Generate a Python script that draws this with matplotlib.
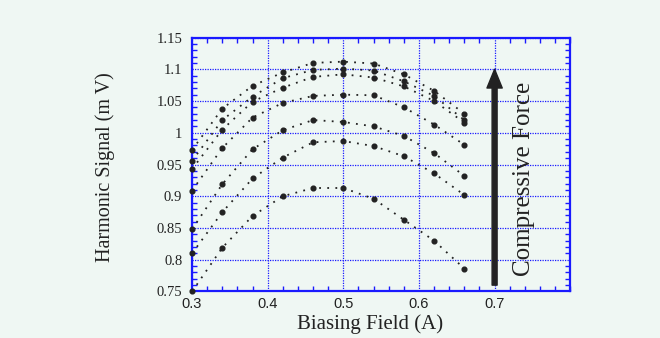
import numpy as np
import matplotlib.pyplot as plt
from matplotlib.ticker import MultipleLocator

# --- data ---
field = [0.30, 0.34, 0.38, 0.42, 0.46, 0.50, 0.54, 0.58, 0.62, 0.66]

signal_1 = [0.973, 1.038, 1.074, 1.095, 1.110, 1.112, 1.109, 1.092, 1.066, 1.030]
signal_2 = [0.956, 1.020, 1.057, 1.086, 1.099, 1.101, 1.098, 1.081, 1.058, 1.020]
signal_3 = [0.943, 1.005, 1.049, 1.071, 1.088, 1.092, 1.087, 1.073, 1.050, 1.016]
signal_4 = [0.909, 0.976, 1.024, 1.047, 1.058, 1.060, 1.059, 1.040, 1.013, 0.981]
signal_5 = [0.848, 0.919, 0.974, 1.004, 1.020, 1.017, 1.010, 0.995, 0.968, 0.932]
signal_6 = [0.810, 0.875, 0.928, 0.961, 0.985, 0.987, 0.979, 0.963, 0.936, 0.902]
signal_7 = [0.750, 0.819, 0.869, 0.900, 0.913, 0.913, 0.896, 0.863, 0.830, 0.786]

all_signals = [signal_1, signal_2, signal_3, signal_4, signal_5, signal_6, signal_7]

x_ticks = [0.3, 0.4, 0.5, 0.6, 0.7]
y_ticks = [0.75, 0.8, 0.85, 0.9, 0.95, 1.0, 1.05, 1.1, 1.15]
y_tick_labels = ['0.75', '0.8', '0.85', '0.9', '0.95', '1', '1.05', '1.1', '1.15']

bg = '#eff7f3'
blue = '#1a1aff'
ink = '#222222'
serif = 'Liberation Serif'
sans = 'Liberation Sans'

fig = plt.figure(figsize=(6.6, 3.38), dpi=100, facecolor=bg)
ax = fig.add_axes([0.291, 0.1376, 0.573, 0.7514], facecolor=bg)

for sig in all_signals:
    ax.plot(field, sig, color=ink, linestyle=(0, (1, 3.5)), linewidth=1.3,
            marker='o', markersize=3.4, markerfacecolor=ink, markeredgecolor=ink,
            clip_on=False, zorder=3)

# arrow + label
ax.annotate('', xy=(0.7, 1.1), xytext=(0.7, 0.76),
            arrowprops=dict(width=3.6, headwidth=11, headlength=13.5, shrink=0,
                            facecolor=ink, edgecolor=ink), zorder=4)
ax.text(0.7384, 0.928, 'Compressive Force', rotation=90, ha='center', va='center',
        fontsize=18, family=serif, color=ink)

ax.set_xlim(0.3, 0.8)
ax.set_ylim(0.75, 1.15)
ax.set_xticks(x_ticks)
ax.set_yticks(y_ticks)
ax.set_yticklabels(y_tick_labels, family=serif, fontsize=10.5)
ax.set_xticklabels([f'{t:.1f}' for t in x_ticks], family=sans, fontsize=10.5)
ax.xaxis.set_minor_locator(MultipleLocator(0.02))
ax.yaxis.set_minor_locator(MultipleLocator(0.01))

ax.tick_params(which='both', direction='in', top=True, right=True, colors=blue,
               labelcolor=ink)
ax.tick_params(which='major', length=0, width=1)
ax.tick_params(axis='y', which='major', pad=7)
ax.tick_params(axis='x', which='major', pad=4)
ax.tick_params(which='minor', length=3.5, width=1)

for sp in ax.spines.values():
    sp.set_color(blue)
    sp.set_linewidth(1.6)

ax.grid(True, which='major', color=blue, linestyle=(0, (1, 1)), linewidth=0.9)
ax.set_axisbelow(True)

ax.set_xlabel('Biasing Field (A)', family=serif, fontsize=15, color=ink)
ax.set_ylabel('Harmonic Signal (m V)', family=serif, fontsize=14.5, color=ink)
ax.xaxis.set_label_coords(0.471, -0.09)
ax.yaxis.set_label_coords(-0.205, 0.49)

fig.savefig('out.png', dpi=100, facecolor=bg)
